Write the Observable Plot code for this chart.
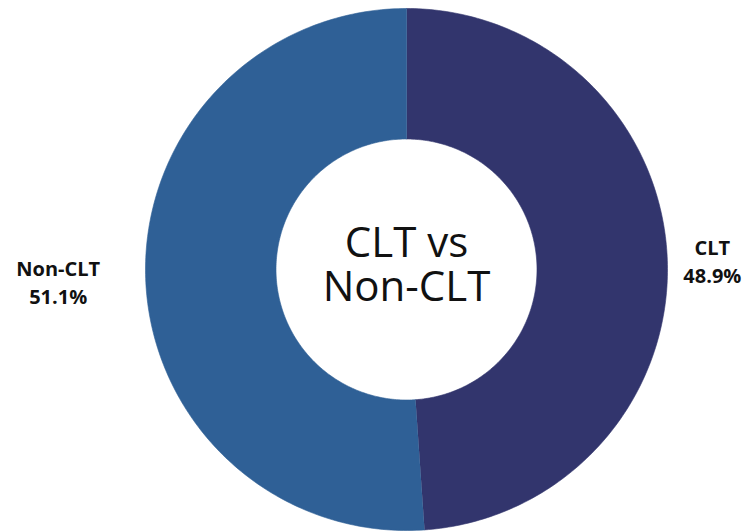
<!DOCTYPE html>
<html>
<head>
<meta charset="utf-8">
<script src="https://cdn.jsdelivr.net/npm/d3@7"></script>
<script src="https://cdn.jsdelivr.net/npm/@observablehq/plot@0.6"></script>
<style>
  html, body { margin: 0; padding: 0; background: #ffffff; }
  #chart svg { display: block; }
</style>
</head>
<body>
<div id="chart"></div>
<script>
const categories = ["CLT", "Non-CLT"];
const shares = [48.9, 51.1];
const colors = ["#32356d", "#2f6096"];
const labels = ["CLT\n48.9%", "Non-CLT\n51.1%"];
const centerTitle = "CLT vs\nNon-CLT";

const innerRatio = 0.5;
const total = d3.sum(shares);
const pie = [];
let acc = 0;
categories.forEach((c, i) => {
  const a0 = acc / total * 2 * Math.PI;
  acc += shares[i];
  const a1 = acc / total * 2 * Math.PI;
  pie.push({category: c, a0, a1, mid: (a0 + a1) / 2, label: labels[i]});
});

// annular sector outlines (angle measured clockwise from 12 o'clock)
const ring = [];
const steps = 200;
for (const s of pie) {
  for (let k = 0; k <= steps; ++k) {
    const a = s.a0 + (s.a1 - s.a0) * k / steps;
    ring.push({category: s.category, x: Math.sin(a), y: Math.cos(a)});
  }
  for (let k = steps; k >= 0; --k) {
    const a = s.a0 + (s.a1 - s.a0) * k / steps;
    ring.push({category: s.category, x: innerRatio * Math.sin(a), y: innerRatio * Math.cos(a)});
  }
}
const edge = pie.map(s => ({category: s.category, label: s.label, x: Math.sin(s.mid), y: Math.cos(s.mid)}));

const chart = Plot.plot({
  width: 743,
  height: 531,
  margin: 0,
  style: {background: "#ffffff"},
  x: {domain: [-1, 1], range: [145, 667], axis: null},
  y: {domain: [-1, 1], range: [530, 8], axis: null},
  color: {domain: categories, range: colors},
  marks: [
    Plot.line(ring, {x: "x", y: "y", z: "category", fill: "category", stroke: "category", strokeWidth: 0.6}),
    Plot.text(edge.filter(d => d.category === "CLT"), {
      x: "x", y: "y", text: "label", textAnchor: "middle", lineAnchor: "bottom",
      dx: 45, dy: 23, fontSize: 20, fontWeight: 700, lineHeight: 1.4,
      fontFamily: "'Open Sans', sans-serif", fill: "#111111"
    }),
    Plot.text(edge.filter(d => d.category === "Non-CLT"), {
      x: "x", y: "y", text: "label", textAnchor: "middle", lineAnchor: "bottom",
      dx: -87.5, dy: 25, fontSize: 20, fontWeight: 700, lineHeight: 1.4,
      fontFamily: "'Open Sans', sans-serif", fill: "#111111"
    }),
    Plot.text([centerTitle], {
      x: () => 0, y: () => 0, text: d => d, textAnchor: "middle", lineAnchor: "bottom",
      dy: 31, fontSize: 42, lineHeight: 1.03, fontWeight: 400,
      fontFamily: "'Open Sans', sans-serif", fill: "#111111"
    })
  ]
});
document.getElementById("chart").appendChild(chart);
</script>
</body>
</html>
